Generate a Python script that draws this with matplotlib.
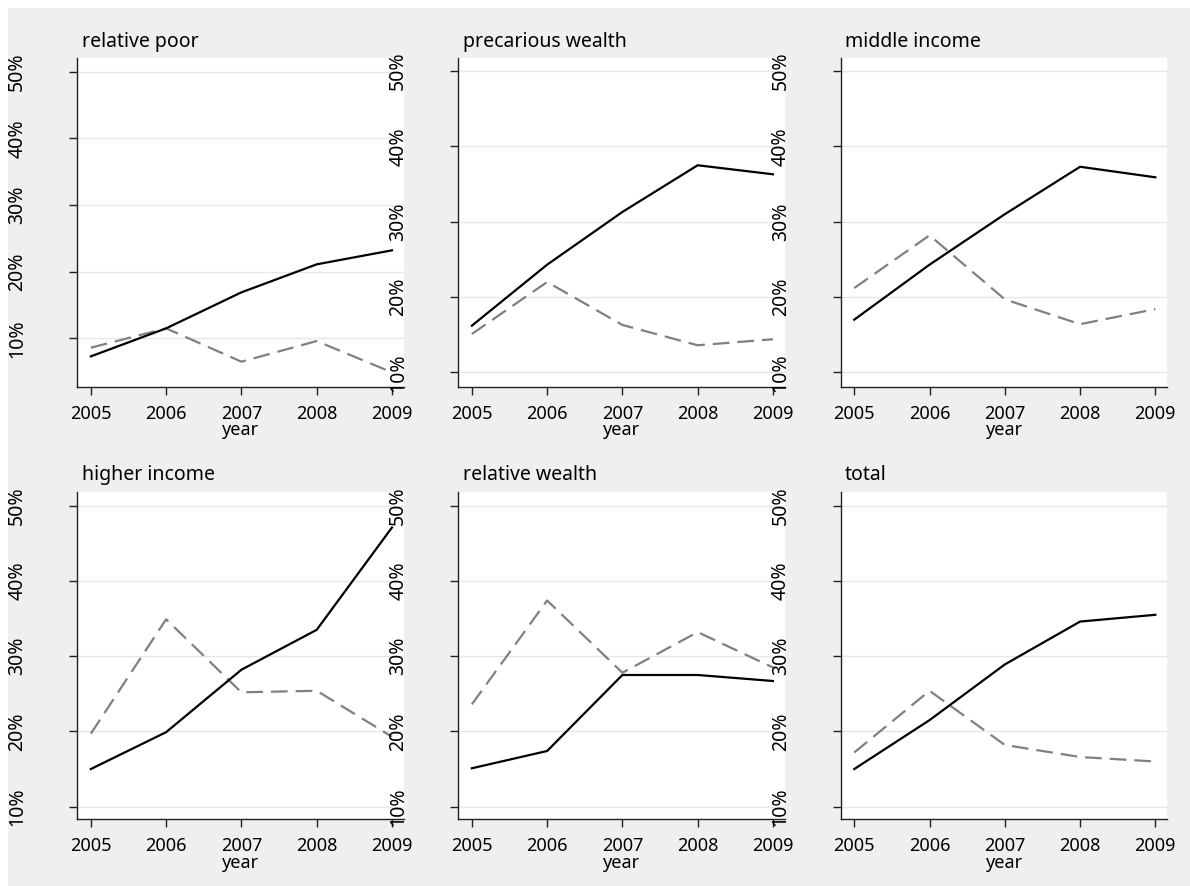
import matplotlib
matplotlib.use("Agg")
import matplotlib.pyplot as plt
from matplotlib.patches import Rectangle
from matplotlib.ticker import FuncFormatter

# ===== data =====
years = [2005, 2006, 2007, 2008, 2009]
titles = ['relative poor', 'precarious wealth', 'middle income',
          'higher income', 'relative wealth', 'total']

# solid black series (%)
solid_relative_poor = [7.3, 11.5, 16.9, 21.1, 23.2]
solid_precarious = [16.2, 24.3, 31.3, 37.5, 36.3]
solid_middle = [17.0, 24.3, 31.0, 37.3, 35.9]
solid_higher = [15.0, 19.9, 28.2, 33.5, 47.1]
solid_rel_wealth = [15.1, 17.4, 27.5, 27.5, 26.7]
solid_total = [15.0, 21.5, 28.9, 34.6, 35.5]

# dashed grey series (%)
dash_relative_poor = [8.6, 11.5, 6.5, 9.6, 4.9]
dash_precarious = [15.1, 22.0, 16.3, 13.6, 14.4]
dash_middle = [21.2, 28.2, 19.7, 16.4, 18.4]
dash_higher = [19.7, 34.9, 25.2, 25.4, 19.3]
dash_rel_wealth = [23.6, 37.4, 27.8, 33.2, 28.5]
dash_total = [17.2, 25.4, 18.2, 16.6, 16.0]

yticks = [10, 20, 30, 40, 50]

solid_all = [solid_relative_poor, solid_precarious, solid_middle,
             solid_higher, solid_rel_wealth, solid_total]
dash_all = [dash_relative_poor, dash_precarious, dash_middle,
            dash_higher, dash_rel_wealth, dash_total]

# ===== layout (pixels) =====
W, H = 1190, 886
BG = '#efefef'
FONT = 'Noto Sans'
plt.rcParams['font.family'] = [FONT, 'DejaVu Sans']

col_left = [77.3, 458.3, 840.7]
col_w = 326.7
row_top = [58.3, 491.7]
row_bot = [386.7, 819.0]
ylims = [(2.75, 52.0), (8.1, 51.7), (8.1, 51.7),
         (8.36, 51.86), (8.36, 51.86), (8.36, 51.86)]

fig = plt.figure(figsize=(W / 100, H / 100), dpi=100, facecolor='white')
fig.add_artist(Rectangle((8 / W, 0), 1 - 8 / W, 1 - 8 / H, transform=fig.transFigure,
                         facecolor=BG, edgecolor='none', zorder=-10))

pct = FuncFormatter(lambda v, p: f'{v:.0f}%')

for i in range(6):
    r, c = divmod(i, 3)
    x0 = col_left[c]
    top, bot = row_top[r], row_bot[r]
    ax = fig.add_axes([x0 / W, 1 - bot / H, col_w / W, (bot - top) / H])
    ax.set_facecolor('white')

    ax.plot(years, solid_all[i], color='black', lw=1.6, zorder=3)
    ax.plot(years, dash_all[i], color='#808080', lw=1.6, dashes=(7.5, 3.6), zorder=2)

    ax.set_xlim(2004.82, 2009.16)
    ax.set_ylim(*ylims[i])
    ax.set_xticks(years)
    ax.set_yticks(yticks)
    ax.yaxis.set_major_formatter(pct)
    ax.grid(axis='y', color='#e6e6e6', lw=1.0, zorder=0)
    ax.set_axisbelow(True)

    for s in ['top', 'right']:
        ax.spines[s].set_visible(False)
    for s in ['left', 'bottom']:
        ax.spines[s].set_color('#222222')
        ax.spines[s].set_linewidth(1.0)

    ax.tick_params(axis='x', length=6, width=1, color='#222222', pad=7,
                   labelsize=13)
    ax.tick_params(axis='y', length=6, width=1, color='#222222', pad=30,
                   labelsize=14, labelrotation=90)
    for lab in ax.get_yticklabels():
        lab.set_va('center')
    ax.set_xlabel('year', fontsize=13, labelpad=-1)

    fig.text((x0 + 4.4) / W, 1 - (top - 16.6) / H, titles[i], fontsize=14,
             ha='left', va='center')

plt.savefig('out.png', dpi=100, facecolor='white')
